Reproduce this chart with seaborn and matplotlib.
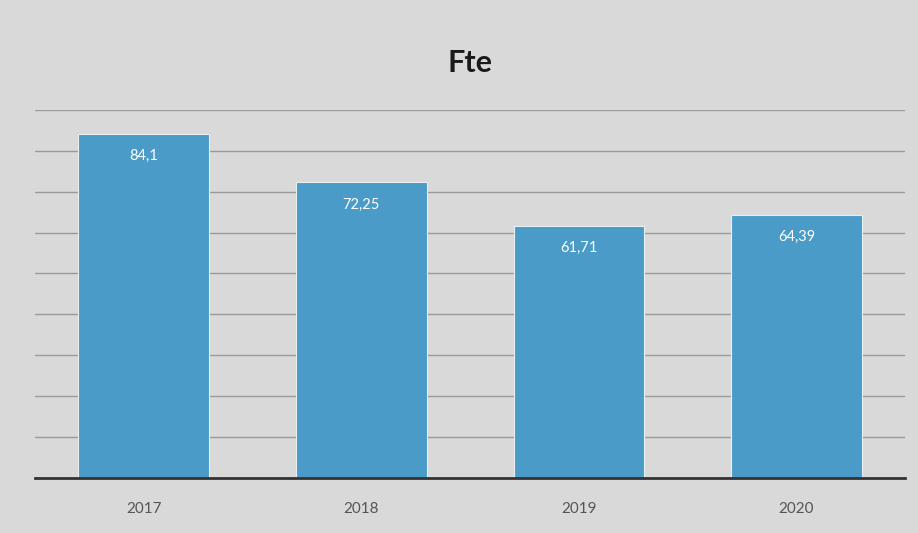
import matplotlib
matplotlib.use("Agg")
import matplotlib.pyplot as plt
import pandas as pd
import seaborn as sns

# Data
years = ["2017", "2018", "2019", "2020"]
fte = [84.1, 72.25, 61.71, 64.39]
value_labels = ["84,1", "72,25", "61,71", "64,39"]

df = pd.DataFrame({"year": years, "fte": fte})

sns.set_theme(style="white")
plt.rcParams["font.family"] = ["Lato", "DejaVu Sans"]

bg = "#d9d9d9"
fig = plt.figure(figsize=(9.18, 5.33), dpi=100, facecolor=bg)
ax = fig.add_axes([0.038, 0.103, 0.948, 0.691])
ax.set_facecolor(bg)

sns.barplot(data=df, x="year", y="fte", color="#4b9bc9", saturation=1,
            width=0.6, edgecolor="#e8eef2", linewidth=0.8, ax=ax)

# value labels inside the top of each bar
for i, (v, lab) in enumerate(zip(fte, value_labels)):
    ax.annotate(lab, (i, v), xytext=(0, -16), textcoords="offset points",
                ha="center", va="center", color="white", fontsize=10.5)

ax.set_ylim(0, 90)
ax.set_xlim(-0.5, 3.5)
ax.set_yticks(range(0, 91, 10))
ax.yaxis.grid(True, color="#9a9a9a", linewidth=1)
ax.set_axisbelow(True)
ax.tick_params(axis="y", left=False, labelleft=False)
ax.tick_params(axis="x", bottom=False, labelsize=11, colors="#555555", pad=11)
ax.set_xlabel("")
ax.set_ylabel("")
for side in ["top", "right", "left"]:
    ax.spines[side].set_visible(False)
ax.spines["bottom"].set_color("#333333")
ax.spines["bottom"].set_linewidth(2)

fig.text(0.512, 0.881, "Fte", ha="center", va="center", fontsize=22,
         fontweight="bold", color="#1a1a1a")

fig.savefig("out.png", dpi=100, facecolor=bg)
